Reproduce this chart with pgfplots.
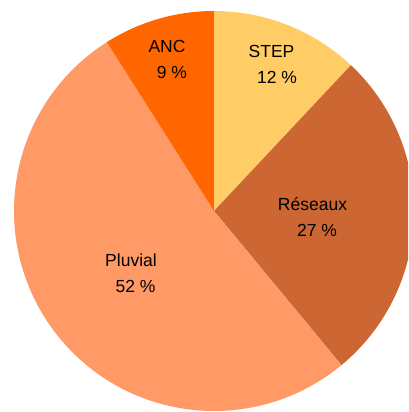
\documentclass[border=0pt]{standalone}
\usepackage{pgfplots}
\pgfplotsset{compat=1.18}
\usepackage{pgfplotstable}
\usepackage{fontspec}
\setmainfont{Liberation Sans}
\definecolor{cSTEP}{HTML}{FFCC66}
\definecolor{cRes}{HTML}{CC6633}
\definecolor{cPluv}{HTML}{FF9966}
\definecolor{cANC}{HTML}{FF6600}
\pgfplotstableread{
label value
STEP 12
Reseaux 27
Pluvial 52
ANC 9
}\piedata
\begin{document}
\begin{tikzpicture}
\begin{axis}[
  scale only axis, width=408pt, height=412pt,
  xmin=-214, xmax=194, ymin=-201, ymax=211,
  hide axis, clip=true, clip mode=global,
  disabledatascaling,
]
\addplot[draw=none] coordinates {(-214,-201) (194,211)};
\gdef\startang{90}
\foreach \i/\col in {0/cSTEP,1/cRes,2/cPluv,3/cANC} {
  \pgfplotstablegetelem{\i}{value}\of\piedata
  \pgfmathsetmacro\endang{\startang - 3.6*\pgfplotsretval}
  \edef\tmp{\noexpand\fill[\col] (axis cs:0,0) -- ++(\startang:200pt) arc[start angle=\startang, end angle=\endang, radius=200pt] -- cycle;}
  \tmp
  \global\let\startang\endang
}
\begin{scope}[every node/.style={anchor=base, inner sep=0pt, font=\fontsize{17.5}{20}\selectfont}]
\node at (axis cs:-47,158.5) {ANC};
\node at (axis cs:-42,132.5) {9 \%};
\node at (axis cs:57.5,153) {STEP};
\node at (axis cs:63,127) {12 \%};
\node at (axis cs:98.5,0) {Réseaux};
\node at (axis cs:103,-25.5) {27 \%};
\node at (axis cs:-83,-55.5) {Pluvial};
\node at (axis cs:-78.5,-81.5) {52 \%};
\end{scope}
\end{axis}
\end{tikzpicture}
\end{document}
